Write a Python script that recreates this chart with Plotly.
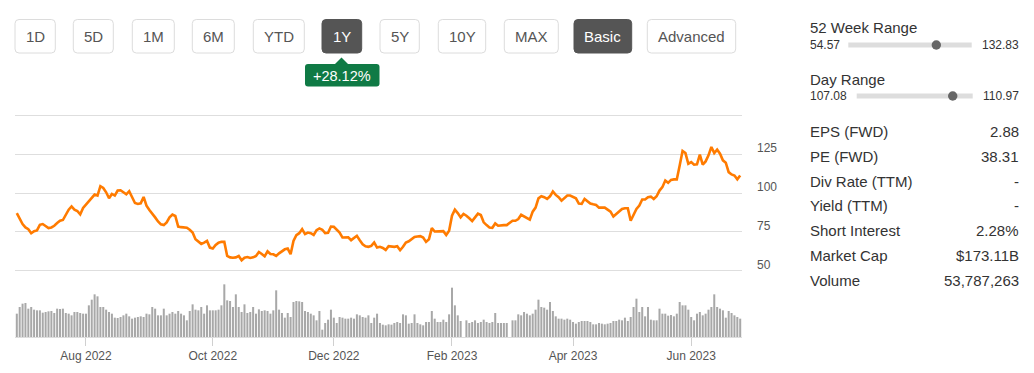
import pandas as pd
import plotly.graph_objects as go

# ---------------- data ----------------
HOLIDAYS = ["2022-07-04", "2022-09-05", "2022-11-24", "2022-12-26", "2023-01-02",
            "2023-01-16", "2023-02-20", "2023-04-07", "2023-05-29", "2023-06-19"]
START_DATE = "2022-06-27"
END_DATE = "2023-06-27"

PRICE = [
    87.2, 83.3, 80.1, 77.9, 76.8, 74.2, 75.5, 76.0, 79.6, 80.1, 78.5, 77.5, 77.9, 79.0, 80.7,
    82.2, 82.7, 85.9, 89.4, 91.5, 89.4, 88.5, 86.3, 90.5, 92.6, 94.8, 97.4, 99.1, 98.5, 104.5,
    103.4, 100.6, 96.7, 99.5, 98.5, 101.7, 101.9, 100.6, 99.3, 101.3, 97.4, 93.7, 93.1, 93.5,
    97.6, 92.0, 89.2, 87.0, 84.4, 81.8, 79.9, 79.4, 81.2, 84.4, 86.2, 85.3, 78.5, 78.1, 77.7,
    77.7, 76.4, 74.6, 70.3, 69.0, 67.3, 68.1, 69.2, 64.9, 64.3, 66.6, 68.1, 68.6, 68.6, 59.5,
    58.6, 58.4, 58.6, 59.5, 56.7, 58.4, 58.8, 58.2, 58.6, 59.5,
    62.1, 60.8, 59.3, 62.5, 60.8, 60.6, 59.5, 61.2, 62.7, 63.8, 64.3, 60.6, 69.2, 72.9, 74.2,
    76.8, 73.6, 74.6, 74.2, 73.1, 76.1, 77.3, 76.4, 74.2, 74.4, 78.5, 78.3, 76.1, 74.6, 71.4,
    71.4, 71.6, 69.7, 71.4, 72.5, 69.7, 67.1, 65.8, 65.4, 66.0, 68.2, 64.9, 65.4,
    64.7, 63.4, 65.8, 65.6, 65.4, 65.8, 63.2, 65.4, 68.2, 69.0, 70.3, 71.8, 72.1, 72.3, 71.4,
    68.6, 70.3, 77.5, 75.3, 75.5, 75.7, 75.5, 73.0, 75.7, 85.5, 89.4, 87.2, 84.4, 86.6, 85.5,
    83.8, 82.0, 84.4, 86.8, 85.9, 81.2, 79.4, 77.9, 77.7, 80.5, 79.0, 79.4, 79.4, 79.4, 80.7,
    82.2, 82.2, 83.3, 86.1, 85.0, 84.0, 82.9, 88.1, 90.7, 96.7, 98.0, 97.4, 96.3, 98.0, 101.1,
    98.9, 97.4, 95.2, 96.7, 98.5, 98.5, 97.4, 96.7, 93.3, 93.1, 96.3, 94.6, 93.3, 92.8, 92.4,
    90.7, 90.7,
    90.7, 89.4, 88.1, 84.9, 86.4, 88.1, 89.8, 90.3, 90.3, 82.2, 85.9, 89.8, 92.0, 95.9, 95.9,
    97.4, 97.8, 96.3, 98.0, 101.7, 103.9, 108.2, 106.7, 108.6, 108.9, 108.9, 117.9, 127.2,
    125.9, 119.0, 120.1, 118.4, 118.6, 124.9, 118.4, 120.5, 124.4, 129.8, 125.9, 128.1, 125.5,
    121.2, 119.7, 113.6, 112.1, 111.4, 108.9, 111.4,
]

VOLUME_M = [
    70, 90, 100, 102, 85, 90, 82, 80, 80, 73,
    75, 77, 78, 72, 85, 84, 85, 72, 70, 65,
    75, 75, 72, 70, 70, 95, 112, 128, 122, 90,
    90, 82, 75, 70, 58, 57, 60, 65, 70, 62,
    55, 58, 60, 62, 60, 70, 68, 90, 85, 65,
    65, 85, 65, 70, 75, 70, 78, 70, 65, 50,
    78, 98, 82, 80, 90, 70, 95, 80, 80, 80,
    82, 95, 158, 110, 108, 90, 128, 90, 75, 98,
    72, 75, 90, 70, 83, 78, 80, 78, 70, 80,
    140, 82, 72, 58, 72, 60, 105, 108, 107, 105,
    78, 75, 70, 65, 50, 78, 22, 42, 52, 82,
    58, 42, 60, 58, 55, 55, 58, 55, 68, 65,
    60, 58, 65, 42, 58, 70,
    42, 37, 35, 38, 37, 42, 45, 42, 68, 65,
    40, 42, 68, 42, 38, 35, 45, 45, 78, 55,
    45, 45, 52, 45, 68, 148, 95, 65, 48, 0,
    50, 42, 45, 50, 42, 45, 52, 45, 42, 45,
    72, 42, 42, 42, 42, 0, 50, 50, 68, 65,
    75, 70, 65, 70, 82, 112, 90, 88, 82, 105,
    78, 62, 55, 55, 52, 55, 52, 45, 40, 45,
    48, 48, 48, 45, 38, 38, 42, 40, 38, 40,
    42, 48, 48, 52, 50, 58, 48, 60, 90, 115,
    75, 90, 62, 90, 52, 50, 50, 85, 70, 70,
    64, 66, 62, 70, 105, 95, 95, 82, 60, 50,
    70, 75, 65, 70, 82, 90, 128, 90, 85, 80,
    58, 78, 72, 65, 60, 55,
]

X_TICK_DATES = ["2022-08-01", "2022-10-03", "2022-12-01", "2023-02-01", "2023-04-03", "2023-06-01"]
X_TICK_TEXT = ["Aug 2022", "Oct 2022", "Dec 2022", "Feb 2023", "Apr 2023", "Jun 2023"]
Y_TICK_VALS = [50, 75, 100, 125, 150]
Y_TICK_TEXT = ["50", "75", "100", "125", ""]

BUTTONS = ["1D", "5D", "1M", "6M", "YTD", "1Y", "5Y", "10Y", "MAX", "Basic", "Advanced"]
ACTIVE_BUTTONS = ["1Y", "Basic"]
CHANGE_TEXT = "+28.12%"

RANGE_52W = ("52 Week Range", "54.57", "132.83", 54.57, 132.83, 110.4)
RANGE_DAY = ("Day Range", "107.08", "110.97", 107.08, 110.97, 110.3)

STAT_LABELS = ["EPS (FWD)", "PE (FWD)", "Div Rate (TTM)", "Yield (TTM)", "Short Interest",
               "Market Cap", "Volume"]
STAT_VALUES = ["2.88", "38.31", "-", "-", "2.28%", "$173.11B", "53,787,263"]

# ---------------- layout helpers ----------------
W, H = 1034, 373
FONT = "Liberation Sans, Arial, sans-serif"


def px(x):
    return x / W


def py(y):
    return 1 - y / H


def rrect(x0, y0, x1, y1, r):
    return (f"M {px(x0 + r)},{py(y0)} L {px(x1 - r)},{py(y0)} "
            f"Q {px(x1)},{py(y0)} {px(x1)},{py(y0 + r)} L {px(x1)},{py(y1 - r)} "
            f"Q {px(x1)},{py(y1)} {px(x1 - r)},{py(y1)} L {px(x0 + r)},{py(y1)} "
            f"Q {px(x0)},{py(y1)} {px(x0)},{py(y1 - r)} L {px(x0)},{py(y0 + r)} "
            f"Q {px(x0)},{py(y0)} {px(x0 + r)},{py(y0)} Z")


dates_all = pd.bdate_range(START_DATE, END_DATE, freq="C", holidays=HOLIDAYS)
dates = [d.strftime("%Y-%m-%d") for d in dates_all][-len(PRICE):]

fig = go.Figure()
fig.add_trace(go.Scatter(x=dates, y=PRICE, mode="lines", xaxis="x", yaxis="y",
                         line=dict(color="#ff7b00", width=2.6), hoverinfo="skip"))
fig.add_trace(go.Bar(x=dates, y=VOLUME_M, xaxis="x2", yaxis="y2",
                     marker=dict(color="#a8a8a8", line=dict(width=0)), hoverinfo="skip"))

X0_PX, X1_PX = 15, 742
n = len(dates)
unit = (740.2 - 16.8) / (n - 1)
xr = [-(16.8 - X0_PX) / unit, (n - 1) + (X1_PX - 740.2) / unit]

# price axis: 50 -> 270.7 px, 150 -> 115.7 px ; pad range so edge gridlines draw
PPU = (270.7 - 115.7) / 100.0
Y_LO, Y_HI = 47.0, 153.0
Y_DOM = [py(270.7 + (50 - Y_LO) * PPU), py(115.7 - (Y_HI - 150) * PPU)]

shapes = []
annotations = []

# buttons
BTN_X = [(15, 55.3), (73.3, 113.3), (132.3, 174.3), (192.3, 234.3), (253.3, 304.3),
         (322, 361.7), (380, 419.3), (438.3, 485.7), (504.3, 558.3), (574, 631.7), (647.3, 735.7)]
for label, (bx0, bx1) in zip(BUTTONS, BTN_X):
    active = label in ACTIVE_BUTTONS
    shapes.append(dict(type="path", path=rrect(bx0, 19.5, bx1, 53, 4), xref="paper", yref="paper",
                       fillcolor="#555555" if active else "#ffffff",
                       line=dict(color="#555555" if active else "#dcdcdc", width=1), layer="above"))
    annotations.append(dict(text=label, x=px((bx0 + bx1) / 2), y=py(36.5), xref="paper", yref="paper",
                            xanchor="center", yanchor="middle", showarrow=False,
                            font=dict(family=FONT, size=15, color="#ffffff" if active else "#555555")))

# change tooltip
shapes.append(dict(type="path", path=rrect(305, 64, 379.5, 86.5, 3), xref="paper", yref="paper",
                   fillcolor="#0f7a45", line=dict(width=0), layer="above"))
shapes.append(dict(type="path",
                   path=f"M {px(334.5)},{py(64.5)} L {px(341.5)},{py(57.5)} L {px(348.5)},{py(64.5)} Z",
                   xref="paper", yref="paper", fillcolor="#0f7a45", line=dict(width=0), layer="above"))
annotations.append(dict(text=CHANGE_TEXT, x=px(342.2), y=py(75.5), xref="paper", yref="paper",
                        xanchor="center", yanchor="middle", showarrow=False,
                        font=dict(family=FONT, size=14.5, color="#ffffff")))

# range sliders
for (title, lo_t, hi_t, lo, hi, cur), ty, sy, bx0, bx1 in [
        (RANGE_52W, 27.5, 45, 848.3, 971.7),
        (RANGE_DAY, 79.5, 96, 856.7, 972.7)]:
    annotations.append(dict(text=title, x=px(807.5), y=py(ty), xref="paper", yref="paper",
                            xanchor="left", yanchor="middle", showarrow=False,
                            font=dict(family=FONT, size=15, color="#333333")))
    annotations.append(dict(text=lo_t, x=px(807.5), y=py(sy), xref="paper", yref="paper",
                            xanchor="left", yanchor="middle", showarrow=False,
                            font=dict(family=FONT, size=12, color="#333333")))
    annotations.append(dict(text=hi_t, x=px(1020.5), y=py(sy), xref="paper", yref="paper",
                            xanchor="right", yanchor="middle", showarrow=False,
                            font=dict(family=FONT, size=12, color="#333333")))
    shapes.append(dict(type="rect", x0=px(bx0), x1=px(bx1), y0=py(sy - 2.5), y1=py(sy + 2.5),
                       xref="paper", yref="paper", fillcolor="#dddddd", line=dict(width=0)))
    cx = bx0 + (bx1 - bx0) * (cur - lo) / (hi - lo)
    shapes.append(dict(type="circle", x0=px(cx - 4.7), x1=px(cx + 4.7), y0=py(sy - 4.7), y1=py(sy + 4.7),
                       xref="paper", yref="paper", fillcolor="#666666", line=dict(width=0)))

# stats
for k, (lab, val) in enumerate(zip(STAT_LABELS, STAT_VALUES)):
    yy = 131.2 + 24.9 * k
    annotations.append(dict(text=lab, x=px(807.5), y=py(yy), xref="paper", yref="paper",
                            xanchor="left", yanchor="middle", showarrow=False,
                            font=dict(family=FONT, size=15, color="#333333")))
    annotations.append(dict(text=val, x=px(1020.5), y=py(yy), xref="paper", yref="paper",
                            xanchor="right", yanchor="middle", showarrow=False,
                            font=dict(family=FONT, size=15, color="#333333")))

fig.update_layout(
    width=W, height=H, margin=dict(l=0, r=0, t=0, b=0),
    paper_bgcolor="#ffffff", plot_bgcolor="#ffffff", showlegend=False, bargap=0.3,
    font=dict(family=FONT),
    xaxis=dict(type="category", domain=[px(X0_PX), px(X1_PX)], range=xr, showticklabels=False,
               showgrid=False, zeroline=False, showline=False, ticks="", anchor="y",
               categoryorder="array", categoryarray=dates),
    yaxis=dict(domain=Y_DOM, range=[Y_LO, Y_HI], side="right", anchor="x",
               tickvals=Y_TICK_VALS, ticktext=Y_TICK_TEXT, showgrid=True, gridcolor="#dedede",
               gridwidth=1, zeroline=False, showline=False, ticks="",
               ticklabelposition="outside top", ticklabelstandoff=14, ticklabelshift=2,
               tickfont=dict(family=FONT, size=12, color="#555555")),
    xaxis2=dict(type="category", domain=[px(X0_PX), px(X1_PX)], range=xr, anchor="y2",
                categoryorder="array", categoryarray=dates,
                tickvals=X_TICK_DATES, ticktext=X_TICK_TEXT, ticks="outside", ticklen=8,
                tickcolor="#d0d0d0", tickwidth=1, showgrid=False, zeroline=False,
                showline=True, linecolor="#dddddd", linewidth=1,
                tickfont=dict(family=FONT, size=12, color="#555555")),
    yaxis2=dict(domain=[py(337), py(280)], range=[0, 171], anchor="x2", showticklabels=False,
                showgrid=False, zeroline=False, showline=False, ticks=""),
    shapes=shapes, annotations=annotations,
)

fig.write_html("out.html", config={"displayModeBar": False},
               post_script="document.body.style.margin='0';document.body.style.overflow='hidden';")
